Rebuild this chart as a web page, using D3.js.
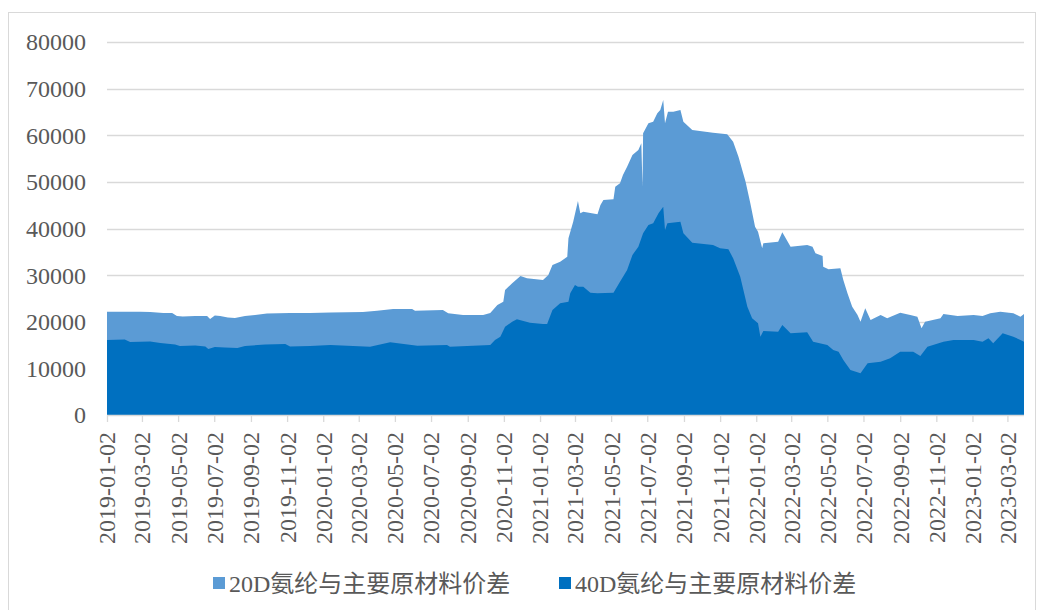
<!DOCTYPE html>
<html>
<head>
<meta charset="utf-8">
<script src="https://cdn.jsdelivr.net/npm/d3@7"></script>
<style>
  body { margin: 0; background: #fff; }
  svg { display: block; }
</style>
</head>
<body>
<div id="chart"></div>
<script>
'use strict';

// Series names (legend)
var seriesNames = ['20D氨纶与主要原材料价差', '40D氨纶与主要原材料价差'];

// 20D spread
var dates20 = ['2019-01-02','2019-02-27','2019-03-16','2019-04-07','2019-04-22','2019-04-30','2019-05-10','2019-05-31',
  '2019-06-20','2019-06-25','2019-07-03','2019-07-12','2019-07-25','2019-08-06','2019-08-23','2019-09-09','2019-09-29',
  '2019-11-07','2019-12-11','2020-01-14','2020-03-09','2020-04-02','2020-04-29','2020-05-31','2020-06-05','2020-07-22',
  '2020-07-31','2020-08-25','2020-09-28','2020-10-10','2020-10-22','2020-11-01','2020-11-04','2020-11-16','2020-11-30',
  '2020-12-11','2021-01-07','2021-01-16','2021-01-23','2021-02-05','2021-02-17','2021-02-19','2021-02-27','2021-03-07',
  '2021-03-11','2021-03-16','2021-04-09','2021-04-14','2021-04-19','2021-05-06','2021-05-09','2021-05-17','2021-05-22',
  '2021-05-29','2021-06-07','2021-06-17','2021-06-22','2021-06-24','2021-06-25','2021-07-04','2021-07-12','2021-07-19',
  '2021-07-24','2021-07-29','2021-08-01','2021-08-06','2021-08-15','2021-08-27','2021-09-01','2021-09-16','2021-10-21',
  '2021-11-14','2021-11-24','2021-12-03','2021-12-15','2021-12-23','2021-12-31','2022-01-05','2022-01-12','2022-01-14',
  '2022-02-08','2022-02-15','2022-03-01','2022-03-29','2022-04-07','2022-04-12','2022-04-24','2022-04-25','2022-05-04',
  '2022-05-24','2022-05-29','2022-06-05','2022-06-13','2022-06-22','2022-06-27','2022-07-05','2022-07-14','2022-07-31',
  '2022-08-11','2022-09-02','2022-09-19','2022-10-01','2022-10-08','2022-10-14','2022-11-09','2022-11-14','2022-12-08',
  '2023-01-04','2023-01-19','2023-02-01','2023-02-18','2023-03-12','2023-03-24','2023-03-30'];
var values20 = [22160,22160,22090,21880,21880,21240,21130,21240,
  21240,20590,21340,21240,20910,20810,21240,21450,21770,
  21880,21880,21990,22090,22370,22740,22740,22370,22520,
  21810,21450,21450,21880,23600,24300,26810,28250,29820,
  29320,28960,30030,32180,32880,33960,37900,41460,45900,
  43260,43610,43050,45050,46120,46270,48970,49700,51480,
  53260,55770,56840,58280,48970,60450,62570,62910,64710,
  65420,67570,62570,65060,65060,65420,62910,61130,60560,
  60210,58620,55400,50040,45410,40390,39320,35760,36830,
  37170,39190,36100,36470,36100,34680,34110,31810,31250,
  31470,28960,26100,23230,21450,20010,22890,20380,21450,
  20740,21940,21450,21090,18600,20010,20740,21660,21240,
  21450,21240,21810,22160,21810,21090,21660];

// 40D spread
var dates40 = ['2019-01-02','2019-02-01','2019-02-10','2019-03-16','2019-04-02','2019-04-27','2019-05-05','2019-05-31',
  '2019-06-17','2019-06-22','2019-07-03','2019-07-20','2019-08-10','2019-08-23','2019-09-26','2019-10-30','2019-11-07',
  '2019-12-11','2020-01-14','2020-03-21','2020-04-24','2020-06-09','2020-07-29','2020-08-03','2020-10-10','2020-10-18',
  '2020-10-27','2020-11-04','2020-11-16','2020-11-24','2020-12-16','2021-01-07','2021-01-14','2021-01-23','2021-02-05',
  '2021-02-19','2021-02-22','2021-03-02','2021-03-07','2021-03-16','2021-03-28','2021-04-09','2021-05-06','2021-05-17',
  '2021-05-29','2021-06-07','2021-06-17','2021-06-25','2021-07-04','2021-07-12','2021-07-21','2021-07-29','2021-08-01',
  '2021-08-05','2021-08-27','2021-09-01','2021-09-16','2021-10-21','2021-11-02','2021-11-16','2021-11-24','2021-12-06',
  '2021-12-18','2021-12-26','2022-01-05','2022-01-09','2022-01-14','2022-02-08','2022-02-15','2022-03-01','2022-03-29',
  '2022-04-08','2022-05-02','2022-05-12','2022-05-21','2022-05-29','2022-06-10','2022-06-27','2022-07-09','2022-07-31',
  '2022-08-16','2022-09-02','2022-09-24','2022-10-06','2022-10-18','2022-11-14','2022-12-01','2023-01-04','2023-01-19',
  '2023-01-29','2023-02-06','2023-02-22','2023-03-12','2023-03-24','2023-03-30'];
var values40 = [16090,16200,15660,15770,15440,15120,14800,14910,
  14690,14160,14590,14480,14370,14800,15120,15230,14690,
  14800,15020,14650,15590,14860,15020,14650,15020,16090,
  16800,18940,20010,20530,19800,19520,19520,22520,23960,
  24300,26100,27890,27520,27520,26230,26100,26230,28590,
  31100,34320,36100,38970,40760,41120,43270,44680,39680,
  41120,41460,38970,36960,36470,35760,35540,33610,29670,
  23230,20740,19670,16800,18020,17870,19310,17520,17740,
  15720,15020,13940,13580,11800,9650,8940,11090,11430,
  12160,13580,13580,12660,14650,15720,16090,16090,15720,
  16450,15380,17520,16800,16090,15720];

// Axis ticks
var xTickLabels = ['2019-01-02','2019-03-02','2019-05-02','2019-07-02','2019-09-02','2019-11-02',
  '2020-01-02','2020-03-02','2020-05-02','2020-07-02','2020-09-02','2020-11-02',
  '2021-01-02','2021-03-02','2021-05-02','2021-07-02','2021-09-02','2021-11-02',
  '2022-01-02','2022-03-02','2022-05-02','2022-07-02','2022-09-02','2022-11-02',
  '2023-01-02','2023-03-02'];
var yTicks = [0,10000,20000,30000,40000,50000,60000,70000,80000];

var colors = ['#5b9bd5', '#0070c0'];
var fontFamily = '"Liberation Serif", "Times New Roman", "Noto Sans CJK SC", serif';

var W = 1040, H = 610;
var margin = {top: 42, left: 107, right: 16, bottom: 195};
var parse = d3.utcParse('%Y-%m-%d');

var svg = d3.select('#chart').append('svg')
  .attr('width', W)
  .attr('height', H);

// Chart frame
svg.append('rect')
  .attr('x', 8.5).attr('y', 12.5)
  .attr('width', 1027).attr('height', 640)
  .attr('fill', 'none')
  .attr('stroke', '#d9d9d9')
  .attr('stroke-width', 1);

var x = d3.scaleUtc()
  .domain([parse('2019-01-02'), parse('2023-03-30')])
  .range([margin.left, W - margin.right]);

var y = d3.scaleLinear()
  .domain([0, 80000])
  .range([H - margin.bottom, margin.top]);

// Gridlines
svg.append('g')
  .selectAll('line')
  .data(yTicks.slice(1))
  .join('line')
  .attr('x1', margin.left).attr('x2', W - margin.right)
  .attr('y1', function(d) { return Math.round(y(d)) + 0.5; })
  .attr('y2', function(d) { return Math.round(y(d)) + 0.5; })
  .attr('stroke', '#d9d9d9')
  .attr('stroke-width', 1.3);

function series(dates, values) {
  return dates.map(function(d, i) { return {date: parse(d), value: values[i]}; });
}
var s20 = series(dates20, values20);
var s40 = series(dates40, values40);

var area = d3.area()
  .x(function(d) { return x(d.date); })
  .y0(y(0))
  .y1(function(d) { return y(d.value); });

svg.append('path').datum(s20).attr('fill', colors[0]).attr('d', area);
svg.append('path').datum(s40).attr('fill', colors[1]).attr('d', area);

// Y axis labels
svg.append('g')
  .selectAll('text')
  .data(yTicks)
  .join('text')
  .attr('x', 86)
  .attr('y', function(d) { return y(d); })
  .attr('dy', '0.35em')
  .attr('text-anchor', 'end')
  .attr('font-family', fontFamily)
  .attr('font-size', '24px')
  .attr('fill', '#595959')
  .text(function(d) { return d; });

// X axis
var xAxis = svg.append('g')
  .attr('transform', 'translate(0,' + y(0) + ')')
  .call(d3.axisBottom(x)
    .tickValues(xTickLabels.map(parse))
    .tickSize(7)
    .tickPadding(9)
    .tickFormat(d3.utcFormat('%Y-%m-%d')));

xAxis.select('.domain')
  .attr('stroke', '#d9d9d9')
  .attr('stroke-width', 1.3)
  .attr('d', 'M' + margin.left + ',0.5H' + (W - margin.right));
xAxis.selectAll('.tick line').attr('stroke', '#d9d9d9').attr('stroke-width', 1.3);
xAxis.selectAll('.tick text')
  .attr('font-family', fontFamily)
  .attr('font-size', '24px')
  .attr('fill', '#595959')
  .attr('transform', 'rotate(-90)')
  .attr('text-anchor', 'end')
  .attr('x', -17)
  .attr('y', 0)
  .attr('dy', '0.33em');

// Legend
var legendX = [213, 559];
var legend = svg.append('g')
  .selectAll('g')
  .data(seriesNames)
  .join('g')
  .attr('transform', function(d, i) { return 'translate(' + legendX[i] + ',577)'; });

legend.append('rect')
  .attr('width', 12).attr('height', 12)
  .attr('fill', function(d, i) { return colors[i]; });

legend.append('text')
  .attr('x', 16)
  .attr('y', 14.5)
  .attr('font-family', fontFamily)
  .attr('font-size', '24px')
  .attr('fill', '#595959')
  .text(function(d) { return d; });
</script>
</body>
</html>
